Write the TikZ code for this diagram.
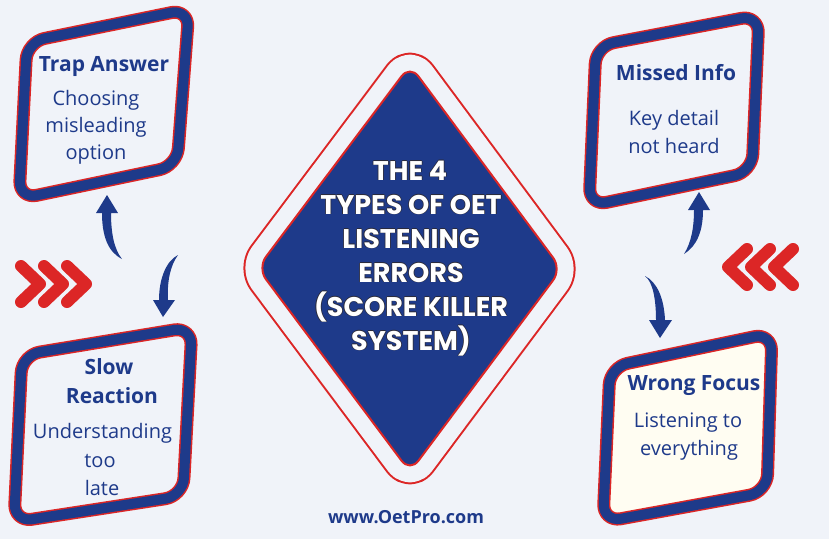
\documentclass[tikz,border=0pt]{standalone}
\usepackage{fontspec}
\setmainfont{Open Sans}
\newfontfamily\ttlfont{Poppins}
\definecolor{bgc}{HTML}{F0F3F9}
\definecolor{navy}{HTML}{1E3A8A}
\definecolor{redc}{HTML}{DC2626}
\definecolor{cream}{HTML}{FFFDF2}
\definecolor{olc}{HTML}{2B2B3A}
\newcommand\olt[1]{\leavevmode\rlap{\color{olc}\kern-0.8pt #1}\rlap{\color{olc}\kern0.8pt #1}\rlap{\color{olc}\raisebox{0.8pt}{#1}}\rlap{\color{olc}\raisebox{-0.8pt}{#1}}#1}
\begin{document}
\begin{tikzpicture}[x=1pt,y=-1pt,
  boxpath/.style={line join=round, rounded corners=18,
     postaction={draw=redc, line width=13},
     postaction={draw=navy, line width=10}},
  ttl/.style={anchor=base, text=navy, font=\fontsize{21}{25}\selectfont\bfseries, inner sep=0pt},
  bdy/.style={anchor=base, text=navy, font=\fontsize{20}{24}\selectfont, inner sep=0pt},
  ctr/.style={anchor=base, text=white, font=\fontsize{27}{32}\selectfont\ttlfont\bfseries, inner sep=0pt},
  chev/.style={draw=redc, line width=12, line cap=round, line join=round},
  arr/.style={fill=navy}]
\fill[bgc] (0,0) rectangle (829,539);
\useasboundingbox (0,0) rectangle (829,539);

% central diamond
\coordinate (dT) at (410,65);
\coordinate (dR) at (561.5,269);
\coordinate (dB) at (410,472);
\coordinate (dL) at (257.5,268);
\path[line join=round, rounded corners=14,
  postaction={draw=redc, line width=38},
  postaction={draw=bgc, line width=34},
  postaction={fill=navy, draw=redc, line width=2}]
  (dT) -- (dR) -- (dB) -- (dL) -- cycle;

% boxes
\coordinate (t1) at (27,42);  \coordinate (t2) at (189,9);  \coordinate (t3) at (177,166); \coordinate (t4) at (19,199);
\coordinate (s1) at (22,355); \coordinate (s2) at (192,327); \coordinate (s3) at (183,496); \coordinate (s4) at (14,522);
\coordinate (m1) at (596,46); \coordinate (m2) at (759,15); \coordinate (m3) at (752,172); \coordinate (m4) at (589,206);
\coordinate (w1) at (610,367); \coordinate (w2) at (772,333); \coordinate (w3) at (767,492); \coordinate (w4) at (603,522);
\path[boxpath, fill=bgc] (t1) -- (t2) -- (t3) -- (t4) -- cycle;
\path[boxpath, fill=bgc] (s1) -- (s2) -- (s3) -- (s4) -- cycle;
\path[boxpath, fill=bgc] (m1) -- (m2) -- (m3) -- (m4) -- cycle;
\path[boxpath, fill=cream] (w1) -- (w2) -- (w3) -- (w4) -- cycle;

% box texts
\node[ttl] (trapT) at (104,71) {Trap Answer};
\node[bdy] (trap1) at (96,105) {Choosing};
\node[bdy] (trap2) at (96,132) {misleading};
\node[bdy] (trap3) at (96,159) {option};

\node[ttl] (slowT1) at (109,374) {Slow};
\node[ttl] (slowT2) at (112,403) {Reaction};
\node[bdy] (slow1) at (102.5,438) {Understanding};
\node[bdy] (slow2) at (100,467) {too};
\node[bdy] (slow3) at (102,495) {late};

\node[ttl] (missT) at (676,80) {Missed Info};
\node[bdy] (miss1) at (674,125) {Key detail};
\node[bdy] (miss2) at (674,153) {not heard};

\node[ttl] (wrongT) at (694,390) {Wrong Focus};
\node[bdy] (wrong1) at (688,427) {Listening to};
\node[bdy] (wrong2) at (689,455) {everything};

% centre title
\node[ctr] (c1) at (410,180) {\olt{THE 4}};
\node[ctr] (c2) at (411,214) {\olt{TYPES OF OET}};
\node[ctr] (c3) at (411,248) {\olt{LISTENING}};
\node[ctr] (c4) at (411,282) {\olt{ERRORS}};
\node[ctr] (c5) at (411,316) {\olt{(SCORE KILLER}};
\node[ctr] (c6) at (411,350) {\olt{SYSTEM)}};

% website
\node[anchor=base, text=navy, font=\fontsize{18}{22}\selectfont\bfseries, inner sep=0pt] (web) at (406,523) {www.OetPro.com};

% chevrons
\foreach \t in {40,63,86} {
  \draw[chev] (\t-19,266) -- (\t,284) -- (\t-19,302);
}
\foreach \t in {728,751,774} {
  \draw[chev] (\t+19,249) -- (\t,267) -- (\t+19,285);
}

% curved arrows
\coordinate (a1tip) at (107,195);
\coordinate (a1tail) at (122,259);
\fill[arr] (a1tip) -- (118,213) -- (111,213) .. controls (111,233) and (114,249) .. (a1tail)
   .. controls (108,252) and (102,236) .. (102,213) -- (96,213) -- cycle;

\coordinate (a2tail) at (178,255);
\coordinate (a2tip) at (163,317);
\fill[arr] (a2tail) .. controls (166,261) and (159,279) .. (159,300) -- (153,300) -- (a2tip) -- (175,300) -- (168,300)
   .. controls (167,282) and (170,266) .. (a2tail) -- cycle;

\coordinate (a3tip) at (699,192);
\coordinate (a3tail) at (684,254);
\fill[arr] (a3tip) -- (710,210) -- (703,210) .. controls (703,231) and (697,246) .. (a3tail)
   .. controls (691,243) and (694,228) .. (694,210) -- (688,210) -- cycle;

\coordinate (a4tail) at (645,276);
\coordinate (a4tip) at (660,338);
\fill[arr] (a4tail) .. controls (653,282) and (656,300) .. (656,320) -- (649,320) -- (a4tip) -- (672,320) -- (665,320)
   .. controls (664,298) and (657,282) .. (a4tail) -- cycle;
\end{tikzpicture}
\end{document}
